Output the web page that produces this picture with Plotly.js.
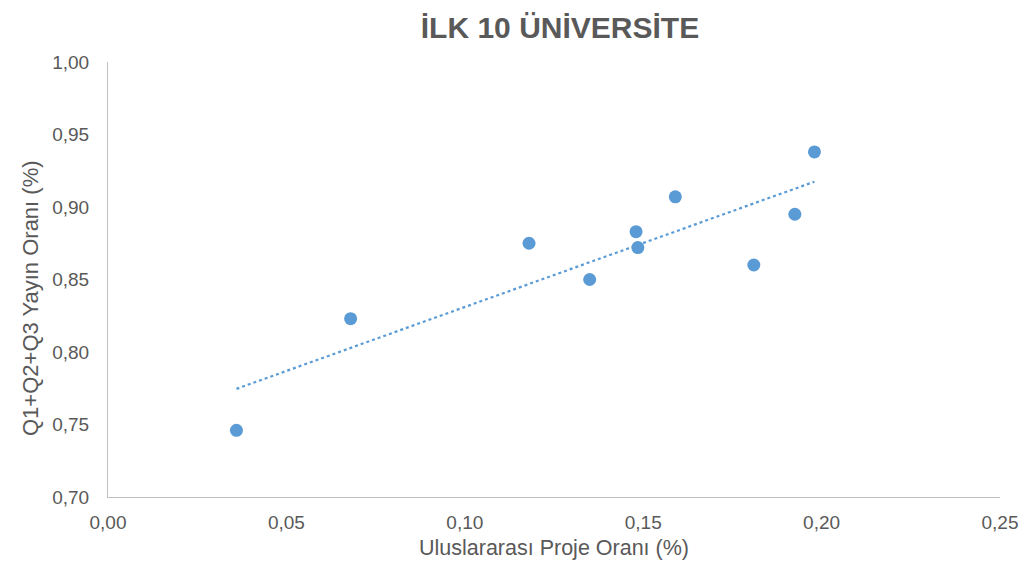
<!DOCTYPE html>
<html>
<head>
<meta charset="utf-8">
<script src="https://cdn.plot.ly/plotly-3.0.1.min.js"></script>
<style>html,body{margin:0;padding:0;background:#fff;}#chart{width:1020px;height:565px;}</style>
</head>
<body>
<div id="chart"></div>
<script>
const projeOrani = [0.036, 0.068, 0.118, 0.135, 0.148, 0.1485, 0.159, 0.181, 0.1925, 0.198];
const yayinOrani = [0.746, 0.823, 0.875, 0.850, 0.883, 0.872, 0.907, 0.860, 0.895, 0.938];
const chartTitle = "İLK 10 ÜNİVERSİTE";
const xTitle = "Uluslararası Proje Oranı (%)";
const yTitle = "Q1+Q2+Q3 Yayın Oranı (%)";

// linear trendline (least squares) from the data
const n = projeOrani.length;
const mx = projeOrani.reduce((a,b)=>a+b,0)/n;
const my = yayinOrani.reduce((a,b)=>a+b,0)/n;
let sxy = 0, sxx = 0;
for (let i=0;i<n;i++){ sxy += (projeOrani[i]-mx)*(yayinOrani[i]-my); sxx += (projeOrani[i]-mx)**2; }
const slope = sxy/sxx, icpt = my - slope*mx;
const xmin = Math.min(...projeOrani), xmax = Math.max(...projeOrani);
const trendX = [xmin, xmax];
const trendY = trendX.map(x => icpt + slope*x);

const blue = "#5b9bd5";
const grey = "#595959";
const font = "Liberation Sans, Arial, sans-serif";

const traces = [
  {x: trendX, y: trendY, type: "scatter", mode: "lines",
   line: {color: blue, width: 2.2, dash: "dot"}, hoverinfo: "skip"},
  {x: projeOrani, y: yayinOrani, type: "scatter", mode: "markers",
   marker: {color: blue, size: 13}}
];

const layout = {
  width: 1020, height: 565,
  margin: {l: 108, r: 20, t: 62, b: 68},
  paper_bgcolor: "#fff", plot_bgcolor: "#fff",
  showlegend: false,
  separators: ",.",
  font: {family: font, color: grey, size: 19},
  title: {text: "<b>" + chartTitle + "</b>", x: 0.549, xref: "container", xanchor: "center",
          y: 1 - 27/565, yref: "container", yanchor: "middle",
          font: {family: font, size: 30, color: grey}},
  xaxis: {range: [0, 0.25], tickvals: [0,0.05,0.10,0.15,0.20,0.25], tickformat: ".2f",
          showgrid: false, zeroline: false, showline: true, linecolor: "#bfbfbf", linewidth: 1,
          ticks: "outside", ticklen: 8, tickcolor: "rgba(0,0,0,0)",
          tickfont: {size: 19, color: grey},
          title: {text: xTitle, font: {size: 21.5, color: grey}, standoff: 8}},
  yaxis: {range: [0.70, 1.00], tickvals: [0.70,0.75,0.80,0.85,0.90,0.95,1.00], tickformat: ".2f",
          showgrid: false, zeroline: false, showline: true, linecolor: "#bfbfbf", linewidth: 1,
          ticks: "outside", ticklen: 14, tickcolor: "rgba(0,0,0,0)",
          tickfont: {size: 19, color: grey}},
  annotations: [
    {text: yTitle, textangle: -90, xref: "paper", yref: "paper",
     x: (30 - 108) / 892, y: (497 - 298) / 435, xanchor: "center", yanchor: "middle",
     showarrow: false, font: {size: 22, color: grey, family: font}}
  ]
};

Plotly.newPlot("chart", traces, layout, {displayModeBar: false, staticPlot: true});
</script>
</body>
</html>
